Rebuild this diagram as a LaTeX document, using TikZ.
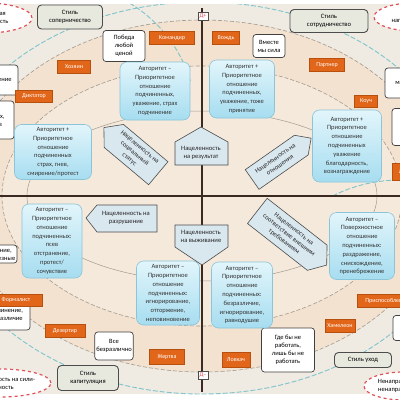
\documentclass[tikz,border=0pt]{standalone}
\usepackage{fontspec}
\setmainfont{Carlito}
\usetikzlibrary{shapes.geometric}
\definecolor{bgA}{HTML}{EFEBE2}
\definecolor{peachA}{HTML}{F4E2D0}
\definecolor{peachB}{HTML}{F5E9DC}
\definecolor{tealA}{HTML}{7EC4CC}
\definecolor{lineA}{HTML}{A09A90}
\definecolor{blueA}{HTML}{E2F5FB}
\definecolor{blueB}{HTML}{A6DDF0}
\definecolor{blueD}{HTML}{8CC4D8}
\definecolor{orangeA}{HTML}{E2661A}
\definecolor{orangeD}{HTML}{B5500F}
\definecolor{styleA}{HTML}{E7E9DF}
\definecolor{pentA}{HTML}{D9E7EF}
\definecolor{redA}{HTML}{E0505A}
\definecolor{axisA}{HTML}{3A2A22}
\newcommand{\myfs}{\fontsize{6.5}{8.8}\selectfont}
\newcommand{\myfsw}{\fontsize{6.5}{8}\selectfont}
\newcommand{\myfsb}{\fontsize{6.6}{8}\selectfont}
\newcommand{\myfso}{\fontsize{6}{7}\selectfont}
\begin{document}
\begin{tikzpicture}[x=1pt,y=-1pt,
  bluebox/.style={draw=blueD, line width=0.6, rounded corners=7, top color=blueA, bottom color=blueB, align=center, font=\myfs, inner sep=1, text=black!80},
  orbox/.style={draw=orangeD, fill=orangeA, text=white, font=\myfso, inner sep=1.2, minimum height=13},
  whbox/.style={draw=black!75, fill=white, rounded corners=3, align=center, font=\myfsw, inner sep=1.5, line width=0.7},
  stylebox/.style={draw=black!70, fill=styleA, rounded corners=4, align=center, font=\myfsb, line width=0.9, inner sep=2},
  redell/.style={ellipse, draw=redA, dashed, line width=1.2, fill=white, align=center, font=\myfsw, inner sep=1},
  pent/.style={draw=black!70, fill=pentA, line width=0.6},
  ptext/.style={align=center, font=\myfsb, text=black!85},
  arcline/.style={draw=lineA, line width=0.6, dash pattern=on 4pt off 2pt},
  tealline/.style={draw=tealA, line width=0.9, dash pattern=on 5pt off 2pt},
  axis/.style={draw=axisA, line width=1.6}
]
\useasboundingbox (0,0) rectangle (400,400);
\fill[white] (0,0) rectangle (400,400);
\begin{scope}
\clip (0,4) rectangle (400,394);
\fill[bgA] (0,4) rectangle (400,394);
\fill[peachA] (202,196) ellipse [x radius=240, y radius=176];
\fill[peachB] (202,196) ellipse [x radius=200, y radius=130];
\draw[arcline] (202,196) ellipse [x radius=240, y radius=176];
\draw[arcline] (202,196) ellipse [x radius=200, y radius=130];
\draw[draw=lineA, line width=0.5] (202,196) ellipse [x radius=175, y radius=85];
\draw[tealline] (202,198) ellipse [x radius=262, y radius=196];
\begin{scope}
\clip (110,0) rectangle (200,80);
\draw[tealline] (60,120) circle [radius=136];
\end{scope}
\begin{scope}
\clip (315,165) rectangle (400,196);
\draw[tealline] (400,330) circle [radius=150];
\end{scope}
\end{scope}

% axes
\coordinate (vt) at (202,8);
\coordinate (vb) at (202,392);
\coordinate (hl) at (0,196);
\coordinate (hr) at (400,196);
\draw[axis] (vt) -- (vb);
\draw[axis] (hl) -- (hr);
\node[draw=black!70, fill=white, font=\myfso, text=redA, inner sep=1.5] (dp) at (203,16) {Д+};
\node[draw=black!70, fill=white, font=\myfso, text=redA, inner sep=1.5] (dm) at (203,375) {Д–};

% red ellipses
\node[redell, minimum width=92, minimum height=30] (etl) at (-14,18) {Эгоистическая\\направленность};
\node[redell, minimum width=80, minimum height=28] (etr) at (414,17) {Высокая\\направленность};
\node[redell, minimum width=80, minimum height=28] (ebl) at (0,383) {Направленность на сили-\\тельность};
\node[redell, minimum width=80, minimum height=28] (ebr) at (404,386) {Ненаправленность\\ненаправленность};

% style boxes
\node[stylebox, minimum width=65, minimum height=24] (s1) at (70,17) {Стиль\\соперничество};
\node[stylebox, minimum width=78, minimum height=23] (s2) at (329,21) {Стиль\\сотрудничество};
\node[stylebox, minimum width=61, minimum height=25] (s3) at (88,378) {Стиль\\капитуляция};
\node[stylebox, minimum width=57, minimum height=15] (s4) at (363,360) {Стиль уход};

% white boxes
\node[whbox, minimum width=42, minimum height=31] (w1) at (124,46) {Победа\\любой\\ценой};
\node[whbox, minimum width=32, minimum height=23] (w2) at (269,46) {Вместе\\мы сила};
\node[whbox, minimum width=40, minimum height=30] (w3) at (405,83) {мастер};
\node[whbox, minimum width=40, minimum height=37] (w4) at (412,127) {Вы\\н\\зн};
\node[whbox, minimum width=40, minimum height=30] (w5) at (-2,80) {Давление};
\node[whbox, minimum width=36, minimum height=38] (w6) at (-4,120) {Страх,\\гнев};
\node[whbox, minimum width=40, minimum height=18] (w7) at (-3,254) {Унижение,\\бесполезные};
\node[whbox, minimum width=50, minimum height=30] (w8) at (5,315) {Подчинение,\\безразличие};
\node[whbox, minimum width=38, minimum height=28] (w9) at (114,346) {Все\\безразлично};
\node[whbox, minimum width=53, minimum height=44] (w10) at (288,350) {Где бы не\\работать,\\лишь бы не\\работать};
\node[whbox, minimum width=40, minimum height=25] (w11) at (413,328) {Ко};

% orange boxes
\node[orbox, minimum width=45] (o1) at (172,38) {Командир};
\node[orbox, minimum width=27] (o2) at (226,38) {Вождь};
\node[orbox, minimum width=35] (o3) at (327,65) {Партнер};
\node[orbox, minimum width=33] (o4) at (74,67) {Хозяин};
\node[orbox, minimum width=37, minimum height=12] (o5) at (34,96) {Диктатор};
\node[orbox, minimum width=23, minimum height=12] (o6) at (366,101) {Коуч};
\node[orbox, minimum width=30, minimum height=17] (o7) at (407,172) {Лидер};
\node[orbox, minimum width=53, minimum height=12] (o8) at (16,300) {Формалист};
\node[orbox, minimum width=40] (o9) at (65,331) {Дезертир};
\node[orbox, minimum width=35, minimum height=15] (o10) at (167,357) {Жертва};
\node[orbox, minimum width=28, minimum height=15] (o11) at (236,360) {Ловкач};
\node[orbox, minimum width=30] (o12) at (340,326) {Хамелеон};
\node[orbox, minimum width=60] (o13) at (387,301) {Приспособленец};

% blue boxes
\node[bluebox, minimum width=70, minimum height=58] (b1) at (155,91) {Авторитет –\\Приоритетное\\отношение\\подчиненных,\\уважение, страх\\подчинение};
\node[bluebox, minimum width=65, minimum height=58] (b2) at (242,89) {Авторитет +\\Приоритетное\\отношение\\подчиненных,\\уважение, тоже\\принятие};
\node[bluebox, minimum width=77, minimum height=55] (b3) at (53,152) {Авторитет +\\Приоритетное\\отношение\\подчиненных\\страх, гнев,\\смирение/протест};
\node[bluebox, minimum width=69, minimum height=72] (b4) at (347,146) {Авторитет +\\Приоритетное\\отношение\\подчиненных\\уважение\\благодарность,\\вознаграждение};
\node[bluebox, minimum width=60, minimum height=74] (b5) at (52,241) {Авторитет –\\Приоритетное\\отношение\\подчиненных:\\псев\\отстранение,\\протест/\\сочувствие};
\node[bluebox, minimum width=65, minimum height=67] (b6) at (362,246) {Авторитет –\\Поверхностное\\отношение\\подчиненных:\\раздражение,\\снисхождение,\\пренебрежение};
\node[bluebox, minimum width=63, minimum height=64] (b7) at (168,293) {Авторитет –\\Приоритетное\\отношение\\подчиненных:\\игнорирование,\\отторжение,\\неповиновение};
\node[bluebox, minimum width=61, minimum height=66] (b8) at (242,295) {Авторитет –\\Приоритетное\\отношение\\подчиненных:\\безразличие,\\игнорирование,\\равнодушие};

% pentagon labels
\draw[pent] (175,165) -- (175,142) -- (201,127) -- (228,142) -- (228,165) -- cycle;
\node[ptext] (p1) at (201,153) {Нацеленность\\на результат};
\draw[pent] (175,225) -- (228,225) -- (228,247) -- (202,265) -- (175,247) -- cycle;
\node[ptext] (p2) at (201,236) {Нацеленность\\на выживание};
\draw[pent] (97,205) -- (157,205) -- (157,232) -- (97,232) -- (86,218) -- cycle;
\node[ptext] (p3) at (126,218) {Нацеленность на\\разрушение};
\begin{scope}[shift={(133,152)}, rotate=-40]
\draw[pent] (-25,-15) -- (33,-15) -- (33,15) -- (-25,15) -- (-38,0) -- cycle;
\node[ptext, rotate=-40] (p4) at (2,0) {Нацеленность на\\социальный\\статус};
\end{scope}
\begin{scope}[shift={(280,160)}, rotate=35]
\draw[pent] (-34,-12) -- (26,-12) -- (38,0) -- (26,12) -- (-34,12) -- cycle;
\node[ptext, rotate=35] (p5) at (-3,0) {Нацеленность на\\отношения};
\end{scope}
\begin{scope}[shift={(292,238)}, rotate=-38]
\draw[pent] (-44,-16) -- (32,-16) -- (44,0) -- (32,16) -- (-44,16) -- cycle;
\node[ptext, rotate=-38] (p6) at (-4,0) {Нацеленность на\\соответствие внешним\\требованиям};
\end{scope}
\end{tikzpicture}
\end{document}
